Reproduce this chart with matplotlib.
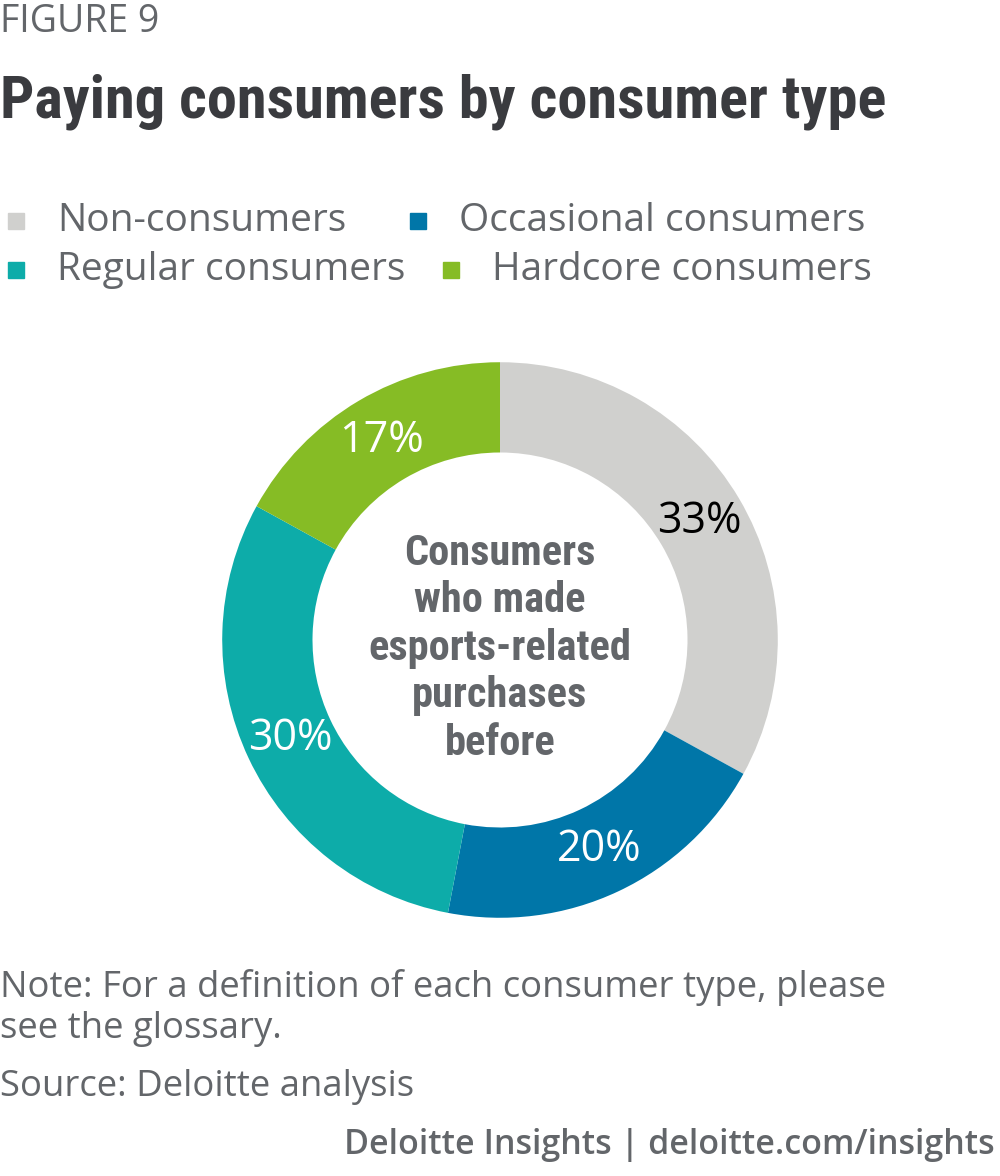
import matplotlib.pyplot as plt
from matplotlib.patches import Rectangle

categories = ["Non-consumers", "Occasional consumers", "Regular consumers", "Hardcore consumers"]
shares = [33, 20, 30, 17]
colors = ["#D0D0CE", "#0076A8", "#0DACA9", "#86BC25"]
label_colors = ["#000000", "#FFFFFF", "#FFFFFF", "#FFFFFF"]

TEXT_GRAY = "#63666A"
TITLE_DARK = "#3A3B3F"
REG = ["Open Sans", "DejaVu Sans"]
COND = ["Roboto Condensed", "DejaVu Sans"]

W, H = 1000, 1176
fig = plt.figure(figsize=(W / 100, H / 100), dpi=100)


def fy(py):
    return 1 - py / H


fig.text(0.0, fy(22), "FIGURE 9", family=REG, fontsize=27, color=TEXT_GRAY,
         va="center", ha="left")
fig.text(0.0, fy(102), "Paying consumers by consumer type", family=COND,
         fontstretch="condensed", fontsize=43.5, fontweight="bold",
         color=TITLE_DARK, va="center", ha="left")

# legend, laid out like the original (two flowing rows)
legend_pos = [(8, 221), (410, 221), (8, 270), (443, 270)]
for (px, py), name, c in zip(legend_pos, categories, colors):
    fig.patches.append(Rectangle((px / W, fy(py + 8)), 16 / W, 16 / H,
                                 transform=fig.transFigure, color=c))
    fig.text((px + 49) / W, fy(py), name, family=REG, fontsize=28,
             color=TEXT_GRAY, va="center", ha="left")

# donut
ax = fig.add_axes([0.2, fy(640) - 300 / H, 0.6, 600 / H])
wedges, _, autotexts = ax.pie(
    shares, colors=colors, startangle=90, counterclock=False,
    radius=1.0, wedgeprops=dict(width=0.325, linewidth=0),
    autopct="%d%%", pctdistance=0.835,
    textprops=dict(fontsize=31, family=REG),
)
for t, c in zip(autotexts, label_colors):
    t.set_color(c)
ax.set_xlim(-1.08, 1.08)
ax.set_ylim(-1.08, 1.08)
ax.set_aspect("equal")
ax.axis("off")

ax.text(0, -0.03, "Consumers\nwho made\nesports-related\npurchases\nbefore",
        family=COND, fontstretch="condensed", fontsize=30.5, fontweight="bold",
        color=TEXT_GRAY, ha="center", va="center", linespacing=1.2)

fig.text(0.0, fy(1008), "Note: For a definition of each consumer type, please\nsee the glossary.",
         family=REG, fontsize=26.3, color=TEXT_GRAY, va="center", ha="left",
         linespacing=1.2)
fig.text(0.0, fy(1087), "Source: Deloitte analysis", family=REG, fontsize=26.3,
         color=TEXT_GRAY, va="center", ha="left")
fig.text(995 / W, fy(1145), "Deloitte Insights | deloitte.com/insights", family=REG,
         fontsize=24.5, fontweight="semibold", color=TEXT_GRAY, va="center", ha="right")

fig.savefig("out.png", dpi=100)
